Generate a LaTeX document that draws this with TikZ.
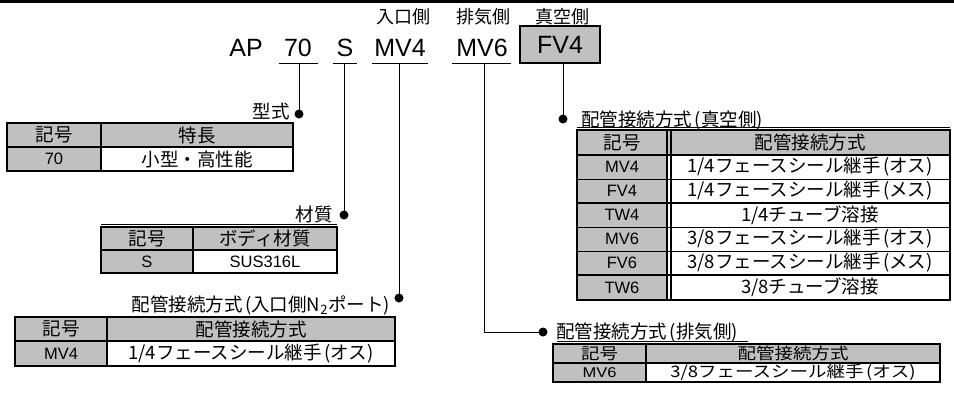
\documentclass[tikz,border=0pt]{standalone}
\usepackage{fontspec}
\setmainfont{Liberation Sans}
\newfontfamily\jp{Noto Sans CJK JP}
\definecolor{cg}{HTML}{C0C0C0}
\newcommand{\sq}[1]{\scalebox{1}[0.86]{#1}}
\newcommand{\lp}{\hspace{0.14em}(}
\newcommand{\rp}{)}
\begin{document}
\begin{tikzpicture}[x=1pt,y=-1pt,
 code/.style={font=\fontsize{25}{25}\selectfont, anchor=base, inner sep=0},
 toplbl/.style={font=\jp\fontsize{18}{18}\selectfont, inner sep=0},
 lbl/.style={font=\jp\fontsize{18.5}{18.5}\selectfont, inner sep=0},
 tcell/.style={font=\jp\fontsize{18.5}{18.5}\selectfont, inner sep=0},
 tcellL/.style={font=\fontsize{16.5}{16.5}\selectfont, inner sep=0},
 dot/.style={circle, fill=black, inner sep=0, minimum size=9},
 conn/.style={line width=1},
 uline/.style={line width=1},
 hairline/.style={line width=0.7},
 outer/.style={line width=2.5},
 thickrule/.style={line width=2},
 thinrule/.style={line width=0.9},
 fvbox/.style={draw, fill=cg, line width=2.8, minimum width=80, minimum height=37, inner sep=0, font=\fontsize{25}{25}\selectfont},
]
\useasboundingbox (0,0) rectangle (954,392);
% top rule
\draw[line width=3] (0,1) -- (954,1);

% top labels
\node[toplbl] (lin) at (403,17) {入口側};
\node[toplbl] (lex) at (483,17) {排気側};
\node[toplbl] (lva) at (562,17) {真空側};

% code
\node[code] (cap) at (246,56) {AP};
\node[code] (c70) at (298,56) {70};
\node[code] (cs) at (345,56) {S};
\node[code] (cmv4) at (400,56) {MV4};
\node[code] (cmv6) at (482,56) {MV6};
\node[fvbox] (cfv4) at (560,44.5) {FV4};

\draw[uline] (279,63) -- (318,63);
\draw[uline] (333,63) -- (357,63);
\draw[uline] (372,63) -- (428,63);
\draw[uline] (452,63) -- (511,63);

\coordinate (u70) at (299,63);
\coordinate (us) at (344,63);
\coordinate (umv4) at (399,63);
\coordinate (umv6) at (484,63);
\coordinate (ufv4) at (563,63);
\coordinate (bend) at (484,332);

% dots
\node[dot] (d70) at (299,114) {};
\node[dot] (ds) at (344,215) {};
\node[dot] (dmv4) at (399,298) {};
\node[dot] (dmv6) at (543,332) {};
\node[dot] (dfv4) at (563,119) {};

\draw[conn] (u70) -- (d70.center);
\draw[conn] (us) -- (ds.center);
\draw[conn] (umv4) -- (dmv4.center);
\draw[conn] (umv6) -- (bend) -- (dmv6.center);
\draw[conn] (ufv4) -- (dfv4.center);

% labels
\node[lbl, anchor=east] (l70) at (290,112) {型式};
\node[lbl, anchor=east] (ls) at (333,214) {材質};
\node[lbl, anchor=east] (lmv4) at (390,305) {配管接続方式\lp 入口側N\textsubscript{2}ポート\rp};
\node[lbl, anchor=west] (lmv6) at (556,332) {配管接続方式\lp 排気側\rp};
\node[lbl, anchor=west] (lfv4) at (581,120) {配管接続方式\lp 真空側\rp};

% ---- table 1 (型式)
\fill[cg] (7,123) rectangle (293,147);
\fill[cg] (7,147) rectangle (101,171);
\draw[thickrule] (7,147) -- (293,147);
\draw[thickrule] (101,123) -- (101,171);
\draw[outer] (7,123) rectangle (293,171);
\node[tcell] (t1a) at (54,135) {記号};
\node[tcell] (t1b) at (197,135) {特長};
\node[tcellL] (t1c) at (54,159) {70};
\node[tcell] (t1d) at (197,159) {小型・高性能};

% ---- table 2 (材質)
\draw[hairline] (101,224.5) -- (337,224.5);
\fill[cg] (101,227) rectangle (337,250);
\fill[cg] (101,250) rectangle (193,273);
\draw[thickrule] (101,250) -- (337,250);
\draw[thickrule] (193,227) -- (193,273);
\draw[outer] (101,227) rectangle (337,273);
\node[tcell] (t2a) at (147,238.5) {記号};
\node[tcell] (t2b) at (265,238.5) {ボディ材質};
\node[tcellL] (t2c) at (147,261.5) {S};
\node[tcellL] (t2d) at (265,261.5) {SUS316L};

% ---- table 3 (入口側)
\fill[cg] (15,317) rectangle (395,341);
\fill[cg] (15,341) rectangle (107,366);
\draw[thickrule] (15,341) -- (395,341);
\draw[thickrule] (107,317) -- (107,366);
\draw[outer] (15,317) rectangle (395,366);
\node[tcell] (t3a) at (61,329) {記号};
\node[tcell] (t3b) at (251,329) {配管接続方式};
\node[tcellL] (t3c) at (61,353.5) {MV4};
\node[tcell] (t3d) at (251,353.5) {1/4フェースシール継手\lp オス\rp};

% ---- table 4 (真空側)
\draw[hairline] (577,127.5) -- (950,127.5);
\fill[cg] (577,130) rectangle (950,155);
\fill[cg] (577,155) rectangle (668,300);
\draw[thickrule] (577,155) -- (950,155);
\draw[thinrule] (577,179) -- (950,179);
\draw[thickrule] (577,203) -- (950,203);
\draw[thinrule] (577,227) -- (950,227);
\draw[thinrule] (577,251) -- (950,251);
\draw[thickrule] (577,275) -- (950,275);
\draw[line width=1.2] (667,130) -- (667,300);
\draw[line width=1.2] (671,130) -- (671,300);
\draw[outer] (577,130) rectangle (950,300);
\node[tcell] (t4a) at (622,142.5) {記号};
\node[tcell] (t4b) at (810,142.5) {配管接続方式};
\node[tcellL] (t4c) at (622,167) {MV4};
\node[tcell] (t4d) at (810,167) {1/4フェースシール継手\lp オス\rp};
\node[tcellL] (t4e) at (622,191) {FV4};
\node[tcell] (t4f) at (810,191) {1/4フェースシール継手\lp メス\rp};
\node[tcellL] (t4g) at (622,215) {TW4};
\node[tcell] (t4h) at (810,215) {1/4チューブ溶接};
\node[tcellL] (t4i) at (622,239) {MV6};
\node[tcell] (t4j) at (810,239) {3/8フェースシール継手\lp オス\rp};
\node[tcellL] (t4k) at (622,263) {FV6};
\node[tcell] (t4l) at (810,263) {3/8フェースシール継手\lp メス\rp};
\node[tcellL] (t4m) at (622,287.5) {TW6};
\node[tcell] (t4n) at (810,287.5) {3/8チューブ溶接};

% ---- table 5 (排気側)
\draw[hairline] (557,341.5) -- (748,341.5);
\fill[cg] (553,344) rectangle (940,363);
\fill[cg] (553,363) rectangle (646,382);
\draw[thickrule] (553,363) -- (940,363);
\draw[thickrule] (646,344) -- (646,382);
\draw[outer] (553,344) rectangle (940,382);
\node[tcell] (t5a) at (599.5,353.5) {\sq{記号}};
\node[tcell] (t5b) at (793,353.5) {\sq{配管接続方式}};
\node[tcellL] (t5c) at (599.5,372.5) {\sq{MV6}};
\node[tcell] (t5d) at (793,372.5) {\sq{3/8フェースシール継手\lp オス\rp}};
\end{tikzpicture}
\end{document}
